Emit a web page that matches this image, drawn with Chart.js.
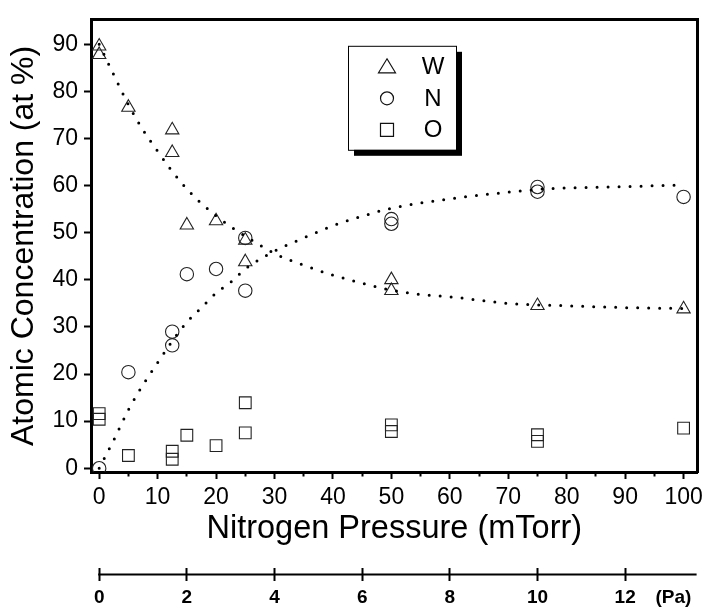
<!DOCTYPE html>
<html>
<head>
<meta charset="utf-8">
<script src="https://cdn.jsdelivr.net/npm/chart.js@4.4.0/dist/chart.umd.min.js"></script>
<style>
  html, body { margin: 0; padding: 0; background: #fff; }
  #wrap { width: 708px; height: 609px; }
</style>
</head>
<body>
<div id="wrap"><canvas id="chart"></canvas></div>
<script>
// measured compositions (x = N2 pressure in mTorr, y = at %)
const wX = [0, 0, 5, 12.5, 12.5, 15, 20, 25, 25, 50, 50, 75, 100];
const wY = [89.6, 87.8, 76.6, 71.8, 67.0, 51.6, 52.5, 48.4, 43.8, 40.0, 37.7, 34.5, 33.8];
const nX = [0, 5, 12.5, 12.5, 15, 20, 25, 25, 50, 50, 75, 75, 100];
const nY = [0, 20.4, 29.0, 26.1, 41.2, 42.3, 48.9, 37.7, 52.9, 51.9, 59.7, 58.7, 57.6];
const oX = [0, 0, 5, 12.5, 12.5, 15, 20, 25, 25, 50, 50, 75, 75, 100];
const oY = [11.6, 10.4, 2.7, 3.6, 1.9, 7.0, 4.8, 13.9, 7.5, 9.2, 7.8, 7.1, 5.7, 8.5];

// dotted guide curves
const wFitX = [0, 2.5, 5, 7.5, 10, 12.5, 15, 17.5, 20, 22.5, 25, 30, 35, 40, 45, 50, 55, 60, 70, 80, 90, 100];
const wFitY = [90.0, 83.5, 77.2, 71.8, 67.3, 63.0, 59.3, 56.2, 53.6, 51.3, 49.3, 45.6, 43.1, 41.0, 39.3, 37.8, 36.9, 36.4, 35.0, 34.5, 34.1, 33.9];
const nFitX = [0, 2.5, 5, 7.5, 10, 12.5, 15, 17.5, 20, 22.5, 25, 30, 35, 40, 45, 50, 60, 70, 75, 80, 90, 99];
const nFitY = [0, 6.0, 12.4, 17.7, 22.4, 27.0, 31.0, 34.1, 37.2, 39.5, 42.3, 46.1, 48.9, 51.5, 53.5, 55.2, 57.2, 58.6, 59.2, 59.5, 59.8, 60.1];

// secondary axis in Pa
const paTicks = [0, 2, 4, 6, 8, 10, 12];
const paUnitAt = 13.1;
const PA_PER_MTORR = 0.133322;

const FONT = "'Liberation Sans', Arial, Helvetica, sans-serif";
const X_MIN = -1.4, X_MAX = 102.4, Y_MIN = -0.8, Y_MAX = 95.2;

const pts = (xs, ys) => xs.map((x, i) => ({ x, y: ys[i] }));
const isMinor = c => c.tick && c.tick.value % 10 !== 0;

const legendRows = [
  { style: 'triangle', label: 'W' },
  { style: 'circle', label: 'N' },
  { style: 'rect', label: 'O' }
];

// boxed legend with drop shadow, inside the plot
const boxLegend = {
  id: 'boxLegend',
  afterDraw(chart) {
    const { ctx, chartArea } = chart;
    const x = chartArea.left + 257, y = chartArea.top + 26, w = 108, h = 104;
    ctx.save();
    ctx.fillStyle = '#000';
    ctx.fillRect(x + 6, y + 6, w, h);
    ctx.fillStyle = '#fff';
    ctx.fillRect(x, y, w, h);
    ctx.strokeStyle = '#000';
    ctx.lineWidth = 1;
    ctx.strokeRect(x + 0.5, y + 0.5, w, h);

    legendRows.forEach((row, i) => {
      const cy = y + 21 + i * 31.5;
      const cx = x + 39;
      ctx.strokeStyle = '#111';
      ctx.lineWidth = 1.2;
      ctx.beginPath();
      if (row.style === 'triangle') {
        ctx.moveTo(cx, cy - 8);
        ctx.lineTo(cx + 8.5, cy + 6);
        ctx.lineTo(cx - 8.5, cy + 6);
        ctx.closePath();
      } else if (row.style === 'circle') {
        ctx.arc(cx, cy, 6.5, 0, Math.PI * 2);
      } else {
        ctx.rect(cx - 6.5, cy - 6.5, 13, 13);
      }
      ctx.stroke();
      ctx.fillStyle = '#000';
      ctx.font = '24px ' + FONT;
      ctx.textAlign = 'center';
      ctx.textBaseline = 'middle';
      ctx.fillText(row.label, x + 85, cy + 1);
    });
    ctx.restore();
  }
};

// the Pa axis line, crossing its tick marks
const paLine = {
  id: 'paLine',
  afterDraw(chart) {
    const s = chart.scales.x2;
    const { ctx } = chart;
    const y = s.top + 6.5;
    ctx.save();
    ctx.strokeStyle = '#000';
    ctx.lineWidth = 2;
    ctx.beginPath();
    ctx.moveTo(s.getPixelForValue(0) - 1, y);
    ctx.lineTo(chart.chartArea.right - 1, y);
    ctx.stroke();
    ctx.restore();
  }
};

const marker = (style, r) => ({
  pointStyle: style,
  pointRadius: r,
  pointHoverRadius: r,
  pointBorderColor: '#222',
  pointBackgroundColor: 'rgba(0,0,0,0)',
  pointBorderWidth: 1.1,
  borderColor: '#222',
  backgroundColor: 'rgba(0,0,0,0)',
  showLine: false
});

const dotted = {
  showLine: true,
  pointRadius: 0,
  borderColor: '#000',
  borderWidth: 3,
  borderDash: [0, 11],
  borderCapStyle: 'round',
  cubicInterpolationMode: 'monotone',
  fill: false
};

new Chart(document.getElementById('chart'), {
  type: 'scatter',
  data: {
    datasets: [
      Object.assign({ label: 'W fit', data: pts(wFitX, wFitY) }, dotted),
      Object.assign({ label: 'N fit', data: pts(nFitX, nFitY) }, dotted),
      Object.assign({ label: 'W', data: pts(wX, wY) }, marker('triangle', 7.7)),
      Object.assign({ label: 'N', data: pts(nX, nY) }, marker('circle', 6.7)),
      Object.assign({ label: 'O', data: pts(oX, oY) }, marker('rect', 8.3))
    ]
  },
  options: {
    responsive: true,
    maintainAspectRatio: false,
    animation: false,
    layout: { padding: { left: 5, right: 9, top: 13, bottom: 0 } },
    plugins: { legend: { display: false }, tooltip: { enabled: false } },
    scales: {
      x: {
        type: 'linear', position: 'bottom', weight: 0,
        min: X_MIN, max: X_MAX,
        afterFit: s => { s.height = 96; },
        border: { display: true, width: 3, color: '#000' },
        grid: {
          drawOnChartArea: false, tickLength: 7, tickWidth: 2, tickColor: '#000',
          tickBorderDash: c => isMinor(c) ? [2.5, 20] : []
        },
        ticks: {
          stepSize: 5, includeBounds: false, autoSkip: false, maxRotation: 0,
          padding: 5, color: '#000', font: { family: FONT, size: 23 },
          callback: v => v % 10 === 0 ? String(v) : ''
        },
        title: {
          display: true, text: 'Nitrogen Pressure (mTorr)', color: '#000',
          font: { family: FONT, size: 32.5 }, padding: { top: 0, bottom: 19 }
        }
      },
      x2: {
        type: 'linear', position: 'bottom', weight: 1,
        min: X_MIN * PA_PER_MTORR, max: X_MAX * PA_PER_MTORR,
        afterFit: s => { s.height = 41; },
        afterBuildTicks: s => {
          s.ticks = paTicks.map(v => ({ value: v })).concat([{ value: paUnitAt }]);
        },
        border: { display: false },
        grid: {
          drawOnChartArea: false, tickLength: 13, tickWidth: 2,
          tickColor: c => (c.tick && c.tick.value === paUnitAt) ? 'rgba(0,0,0,0)' : '#000'
        },
        ticks: {
          autoSkip: false, maxRotation: 0, padding: 5, color: '#000',
          font: { family: FONT, size: 19, weight: 'bold' },
          callback: v => v === paUnitAt ? '(Pa)' : String(v)
        }
      },
      y: {
        type: 'linear', position: 'left',
        min: Y_MIN, max: Y_MAX,
        afterFit: s => { s.width = 86; },
        border: { display: true, width: 3, color: '#000' },
        grid: {
          drawOnChartArea: false, tickLength: 7, tickWidth: 2, tickColor: '#000',
          tickBorderDash: c => isMinor(c) ? [0, 3, 20, 0] : []
        },
        ticks: {
          stepSize: 5, includeBounds: false, padding: 6, color: '#000',
          font: { family: FONT, size: 23 },
          callback: v => v % 10 === 0 ? String(v) : ''
        },
        title: {
          display: true, text: 'Atomic Concentration (at %)', color: '#000',
          font: { family: FONT, size: 32 }, padding: { top: 0, bottom: 0 }
        }
      },
      xTop: {
        type: 'linear', position: 'top', min: X_MIN, max: X_MAX,
        afterFit: s => { s.height = 0; },
        ticks: { display: false },
        grid: { display: false, drawTicks: false },
        border: { display: true, width: 3, color: '#000' }
      },
      yRight: {
        type: 'linear', position: 'right', min: Y_MIN, max: Y_MAX,
        afterFit: s => { s.width = 0; },
        ticks: { display: false },
        grid: { display: false, drawTicks: false },
        border: { display: true, width: 3, color: '#000' }
      }
    }
  },
  plugins: [boxLegend, paLine]
});
</script>
</body>
</html>
